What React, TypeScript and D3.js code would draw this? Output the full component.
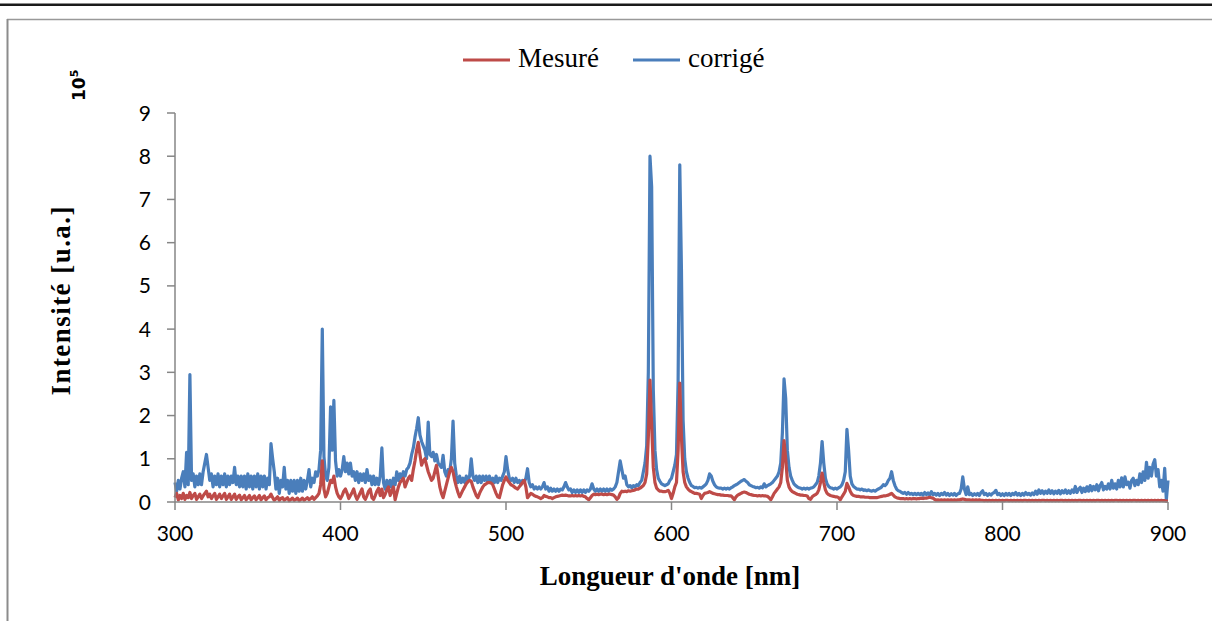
import React from 'react';
import * as d3 from 'd3';

// wavelength grid, 1 nm step
const wavelengths: number[] = d3.range(300, 901);

// corrigé (x 10^5), one row per 10 nm starting at 300 nm
const corrige: number[] = [
  0.45,0.25,0.5,0.3,0.55,0.7,0.35,1.15,0.4,2.95,
  0.5,0.65,0.35,0.6,0.4,0.65,0.4,0.7,0.9,1.1,
  0.8,0.5,0.65,0.35,0.6,0.4,0.65,0.35,0.6,0.4,
  0.65,0.35,0.6,0.4,0.6,0.45,0.8,0.4,0.6,0.35,
  0.6,0.35,0.6,0.3,0.65,0.35,0.6,0.3,0.6,0.35,
  0.65,0.3,0.6,0.35,0.6,0.3,0.55,0.4,1.35,1.0,
  0.7,0.3,0.55,0.2,0.5,0.35,0.8,0.3,0.5,0.2,
  0.5,0.25,0.5,0.2,0.5,0.25,0.55,0.25,0.5,0.3,
  0.5,0.75,0.35,0.55,0.45,0.7,0.6,0.75,1.2,4.0,
  1.05,0.6,0.5,0.8,2.2,1.2,2.35,0.95,0.6,0.75,
  0.6,0.75,1.05,0.7,0.9,0.65,0.9,0.6,0.7,0.5,
  0.7,0.45,0.65,0.5,0.65,0.45,0.75,0.5,0.6,0.4,
  0.6,0.4,0.55,0.4,0.6,1.25,0.45,0.3,0.5,0.3,
  0.5,0.35,0.55,0.4,0.7,0.5,0.65,0.55,0.7,0.6,
  0.75,0.8,0.9,1.1,1.25,1.5,1.7,1.95,1.55,1.4,
  1.3,1.2,1.0,1.85,1.1,1.05,1.15,0.95,1.1,0.9,
  0.85,0.8,1.08,0.7,0.6,0.75,0.7,1.0,1.87,0.9,
  0.6,0.45,0.6,0.45,0.55,0.45,0.6,0.5,0.6,1.0,
  0.6,0.5,0.6,0.45,0.6,0.45,0.6,0.5,0.6,0.45,
  0.6,0.45,0.55,0.45,0.6,0.45,0.55,0.5,0.6,0.7,
  1.05,0.75,0.55,0.5,0.55,0.45,0.55,0.45,0.5,0.4,
  0.5,0.45,0.55,0.77,0.45,0.35,0.4,0.3,0.35,0.3,
  0.35,0.3,0.35,0.45,0.3,0.35,0.25,0.32,0.25,0.3,
  0.25,0.3,0.25,0.3,0.28,0.35,0.45,0.35,0.28,0.3,
  0.22,0.28,0.22,0.28,0.22,0.28,0.22,0.28,0.22,0.28,
  0.25,0.3,0.42,0.3,0.25,0.3,0.25,0.3,0.25,0.3,
  0.25,0.3,0.25,0.3,0.27,0.3,0.35,0.45,0.7,0.95,
  0.75,0.55,0.6,0.4,0.35,0.38,0.33,0.38,0.35,0.4,
  0.38,0.45,0.5,0.7,0.9,1.3,3.0,8.0,7.3,2.6,
  1.2,0.75,0.55,0.48,0.42,0.4,0.38,0.4,0.42,0.5,
  0.55,0.7,0.85,1.1,2.8,7.8,5.4,1.9,1.0,0.7,
  0.55,0.45,0.38,0.36,0.33,0.34,0.32,0.34,0.32,0.35,
  0.38,0.42,0.5,0.65,0.6,0.48,0.4,0.35,0.33,0.32,
  0.32,0.3,0.32,0.3,0.32,0.3,0.33,0.35,0.38,0.4,
  0.42,0.45,0.48,0.5,0.52,0.48,0.45,0.4,0.38,0.36,
  0.35,0.33,0.34,0.32,0.35,0.33,0.42,0.35,0.38,0.4,
  0.42,0.45,0.5,0.55,0.6,0.7,0.9,1.6,2.85,2.4,
  1.2,0.8,0.6,0.5,0.42,0.38,0.35,0.33,0.32,0.3,
  0.32,0.3,0.32,0.3,0.32,0.33,0.35,0.4,0.45,0.6,
  0.9,1.4,0.9,0.55,0.42,0.36,0.33,0.32,0.3,0.32,
  0.3,0.33,0.35,0.4,0.5,0.7,1.68,1.2,0.6,0.42,
  0.36,0.33,0.3,0.3,0.28,0.3,0.27,0.28,0.26,0.28,
  0.26,0.25,0.27,0.25,0.28,0.3,0.32,0.35,0.4,0.38,
  0.42,0.5,0.55,0.7,0.5,0.38,0.3,0.26,0.25,0.22,
  0.2,0.22,0.18,0.22,0.18,0.2,0.17,0.2,0.17,0.2,
  0.17,0.2,0.16,0.22,0.17,0.21,0.16,0.24,0.17,0.2,
  0.16,0.2,0.15,0.2,0.17,0.22,0.16,0.2,0.15,0.19,
  0.16,0.2,0.15,0.19,0.2,0.3,0.58,0.3,0.17,0.35,
  0.17,0.2,0.15,0.19,0.16,0.2,0.15,0.22,0.26,0.17,
  0.2,0.15,0.19,0.16,0.2,0.22,0.27,0.17,0.2,0.15,
  0.19,0.15,0.2,0.16,0.2,0.15,0.2,0.17,0.22,0.16,
  0.2,0.15,0.2,0.16,0.22,0.17,0.2,0.16,0.21,0.17,
  0.25,0.18,0.28,0.2,0.26,0.19,0.25,0.2,0.28,0.2,
  0.26,0.19,0.25,0.2,0.27,0.19,0.26,0.21,0.28,0.2,
  0.26,0.2,0.28,0.22,0.36,0.22,0.3,0.34,0.22,0.32,
  0.24,0.35,0.25,0.38,0.26,0.36,0.28,0.4,0.26,0.38,
  0.45,0.28,0.36,0.3,0.42,0.3,0.5,0.32,0.42,0.3,
  0.5,0.35,0.56,0.35,0.58,0.4,0.46,0.32,0.5,0.55,
  0.38,0.5,0.4,0.65,0.45,0.7,0.5,0.92,0.55,0.8,
  0.6,0.88,0.98,0.6,0.75,0.35,0.5,0.25,0.78,0.05,
  0.5,
];

// mesuré (x 10^5), one row per 10 nm starting at 300 nm
const mesure: number[] = [
  0.1,0.2,0.05,0.15,0.08,0.2,0.06,0.15,0.1,0.22,
  0.08,0.15,0.2,0.06,0.12,0.18,0.08,0.14,0.2,0.25,
  0.12,0.18,0.08,0.14,0.2,0.06,0.12,0.18,0.08,0.14,
  0.2,0.06,0.12,0.18,0.06,0.12,0.18,0.06,0.12,0.16,
  0.05,0.1,0.15,0.05,0.1,0.15,0.05,0.1,0.14,0.05,
  0.1,0.15,0.05,0.1,0.14,0.05,0.1,0.12,0.18,0.1,
  0.04,0.08,0.12,0.04,0.08,0.1,0.04,0.07,0.1,0.03,
  0.06,0.09,0.04,0.06,0.09,0.03,0.06,0.09,0.04,0.07,
  0.1,0.05,0.08,0.12,0.06,0.1,0.14,0.2,0.4,0.95,
  0.3,0.12,0.2,0.35,0.5,0.45,0.6,0.35,0.2,0.12,
  0.08,0.15,0.25,0.3,0.2,0.08,0.15,0.22,0.3,0.15,
  0.06,0.14,0.22,0.3,0.12,0.06,0.15,0.25,0.3,0.1,
  0.06,0.15,0.25,0.32,0.15,0.3,0.1,0.18,0.28,0.35,
  0.15,0.25,0.35,0.05,0.2,0.35,0.45,0.5,0.55,0.35,
  0.45,0.55,0.6,0.5,0.75,0.95,1.2,1.38,1.1,0.85,
  0.95,1.0,0.85,0.7,0.6,0.5,0.55,0.7,0.85,0.6,
  0.35,0.2,0.1,0.25,0.4,0.55,0.7,0.8,0.7,0.5,
  0.35,0.22,0.12,0.2,0.28,0.35,0.42,0.47,0.5,0.48,
  0.35,0.25,0.15,0.1,0.2,0.28,0.35,0.4,0.42,0.45,
  0.45,0.44,0.4,0.3,0.2,0.12,0.1,0.25,0.4,0.5,
  0.58,0.5,0.45,0.4,0.38,0.35,0.32,0.3,0.35,0.4,
  0.45,0.5,0.35,0.1,0.15,0.2,0.18,0.15,0.13,0.12,
  0.1,0.08,0.1,0.15,0.13,0.12,0.1,0.1,0.08,0.1,
  0.12,0.13,0.14,0.15,0.16,0.15,0.16,0.15,0.14,0.14,
  0.15,0.14,0.15,0.14,0.15,0.14,0.15,0.13,0.12,0.08,
  0.05,0.1,0.15,0.18,0.17,0.18,0.17,0.18,0.18,0.17,
  0.18,0.17,0.18,0.18,0.17,0.16,0.12,0.06,0.1,0.2,
  0.25,0.24,0.25,0.24,0.26,0.25,0.26,0.27,0.28,0.3,
  0.3,0.32,0.35,0.38,0.45,0.65,1.5,2.82,1.8,0.8,
  0.45,0.32,0.28,0.25,0.25,0.24,0.24,0.25,0.27,0.2,
  0.08,0.2,0.35,0.45,1.2,2.75,1.5,0.7,0.45,0.35,
  0.3,0.26,0.24,0.22,0.2,0.2,0.19,0.18,0.08,0.15,
  0.2,0.21,0.22,0.24,0.22,0.2,0.19,0.18,0.17,0.17,
  0.16,0.16,0.15,0.15,0.15,0.14,0.14,0.1,0.05,0.12,
  0.16,0.18,0.2,0.22,0.23,0.22,0.2,0.18,0.17,0.16,
  0.15,0.15,0.14,0.15,0.14,0.15,0.14,0.14,0.13,0.1,
  0.05,0.12,0.2,0.25,0.3,0.35,0.45,0.8,1.42,1.0,
  0.5,0.35,0.28,0.24,0.22,0.2,0.18,0.17,0.16,0.16,
  0.15,0.15,0.14,0.08,0.06,0.12,0.15,0.17,0.2,0.28,
  0.45,0.67,0.45,0.28,0.2,0.17,0.15,0.14,0.13,0.12,
  0.12,0.1,0.05,0.12,0.18,0.25,0.43,0.35,0.25,0.18,
  0.15,0.14,0.13,0.13,0.12,0.12,0.12,0.11,0.11,0.11,
  0.1,0.1,0.1,0.1,0.1,0.11,0.12,0.13,0.14,0.14,
  0.15,0.16,0.18,0.2,0.16,0.12,0.1,0.09,0.08,0.08,
  0.08,0.07,0.08,0.07,0.08,0.07,0.08,0.08,0.07,0.08,
  0.08,0.09,0.08,0.09,0.09,0.1,0.11,0.1,0.09,0.06,
  0.04,0.05,0.04,0.05,0.04,0.05,0.04,0.05,0.04,0.05,
  0.04,0.05,0.04,0.05,0.05,0.06,0.07,0.06,0.05,0.05,
  0.05,0.04,0.05,0.04,0.05,0.04,0.05,0.04,0.04,0.03,
  0.04,0.03,0.04,0.03,0.04,0.03,0.04,0.03,0.04,0.03,
  0.04,0.03,0.04,0.04,0.03,0.04,0.03,0.04,0.03,0.04,
  0.03,0.04,0.03,0.04,0.04,0.03,0.04,0.03,0.04,0.03,
  0.04,0.03,0.04,0.03,0.04,0.04,0.03,0.04,0.03,0.04,
  0.03,0.04,0.03,0.04,0.03,0.04,0.04,0.03,0.04,0.03,
  0.04,0.03,0.04,0.03,0.04,0.03,0.04,0.04,0.03,0.04,
  0.03,0.04,0.03,0.04,0.03,0.04,0.03,0.04,0.04,0.03,
  0.04,0.03,0.04,0.03,0.04,0.03,0.04,0.03,0.04,0.04,
  0.03,0.04,0.03,0.04,0.03,0.04,0.03,0.04,0.03,0.04,
  0.04,0.03,0.04,0.03,0.04,0.03,0.04,0.03,0.04,0.03,
  0.04,0.03,0.04,0.03,0.04,0.03,0.04,0.03,0.03,0.02,
  0.02,
];

const xTicks: number[] = [300, 400, 500, 600, 700, 800, 900];
const yTicks: number[] = [0, 1, 2, 3, 4, 5, 6, 7, 8, 9];

const seriesNames = ['Mesuré', 'corrigé'];

const RED = '#BE4B48';
const BLUE = '#4A7EBB';
const AXIS = '#868686';

export default function App() {
  const W = 1212;
  const H = 621;
  const x = d3.scaleLinear().domain([300, 900]).range([175, 1168]);
  const y = d3.scaleLinear().domain([0, 9]).range([502, 113]);

  const makeLine = (vals: number[]) =>
    d3
      .line<number>()
      .x((_, i) => x(wavelengths[i]))
      .y((d) => y(d))(vals.slice(0, wavelengths.length)) || '';

  const tickFont = 'Lato, "Open Sans", sans-serif';
  const serif = '"Liberation Serif", "DejaVu Serif", serif';

  return (
    <svg
      width={W}
      height={H}
      viewBox={`0 0 ${W} ${H}`}
      style={{ position: 'absolute', left: 0, top: 0, background: '#fff' }}
    >
      <rect x={0} y={0} width={W} height={H} fill="#fff" />
      {/* page rule and frame */}
      <rect x={0} y={3.5} width={W} height={2.5} fill="#1a1a1a" />
      <line x1={7} x2={W} y1={19.5} y2={19.5} stroke="#999" strokeWidth={1.3} />
      <line x1={7.5} x2={7.5} y1={19} y2={H} stroke="#8c8c8c" strokeWidth={2} />

      {/* data */}
      <path d={makeLine(corrige)} fill="none" stroke={BLUE} strokeWidth={3.2} strokeLinejoin="round" />
      <path d={makeLine(mesure)} fill="none" stroke={RED} strokeWidth={3.2} strokeLinejoin="round" />

      {/* axes */}
      <line x1={x(300)} x2={x(300)} y1={y(9)} y2={y(0)} stroke={AXIS} strokeWidth={1.5} />
      <line x1={x(300)} x2={x(900)} y1={y(0)} y2={y(0)} stroke={AXIS} strokeWidth={1.5} />
      {yTicks.map((t) => (
        <g key={'y' + t}>
          <line x1={x(300) - 8} x2={x(300)} y1={y(t)} y2={y(t)} stroke={AXIS} strokeWidth={1.5} />
          <text
            x={151}
            y={y(t)}
            dy="0.36em"
            textAnchor="end"
            fontFamily={tickFont}
            fontSize={21}
            fill="#000"
          >
            {t}
          </text>
        </g>
      ))}
      {xTicks.map((t) => (
        <g key={'x' + t}>
          <line x1={x(t)} x2={x(t)} y1={y(0)} y2={y(0) + 8} stroke={AXIS} strokeWidth={1.5} />
          <text x={x(t)} y={541} textAnchor="middle" fontFamily={tickFont} fontSize={21} fill="#000">
            {t}
          </text>
        </g>
      ))}

      {/* axis titles */}
      <text
        x={670}
        y={585}
        textAnchor="middle"
        fontFamily={serif}
        fontWeight="bold"
        fontSize={27}
        fill="#000"
      >
        Longueur d'onde [nm]
      </text>
      <text
        transform="translate(70,301) rotate(-90)"
        textAnchor="middle"
        fontFamily={serif}
        fontWeight="bold"
        fontSize={27}
        textLength={189}
        lengthAdjust="spacing"
        fill="#000"
      >
        Intensité [u.a.]
      </text>
      <text
        transform="translate(85,101) rotate(-90)"
        fontFamily='"DejaVu Sans", sans-serif'
        fontWeight="bold"
        fontSize={17}
        fill="#000"
      >
        <tspan>10</tspan>
        <tspan fontSize={11} dy={-7}>
          5
        </tspan>
      </text>

      {/* legend */}
      <line x1={463} x2={510} y1={60} y2={60} stroke={RED} strokeWidth={3} />
      <text x={518} y={67} fontFamily={serif} fontSize={27} fill="#000">
        {seriesNames[0]}
      </text>
      <line x1={633} x2={680} y1={60} y2={60} stroke={BLUE} strokeWidth={3} />
      <text x={688} y={67} fontFamily={serif} fontSize={27} fill="#000">
        {seriesNames[1]}
      </text>
    </svg>
  );
}
